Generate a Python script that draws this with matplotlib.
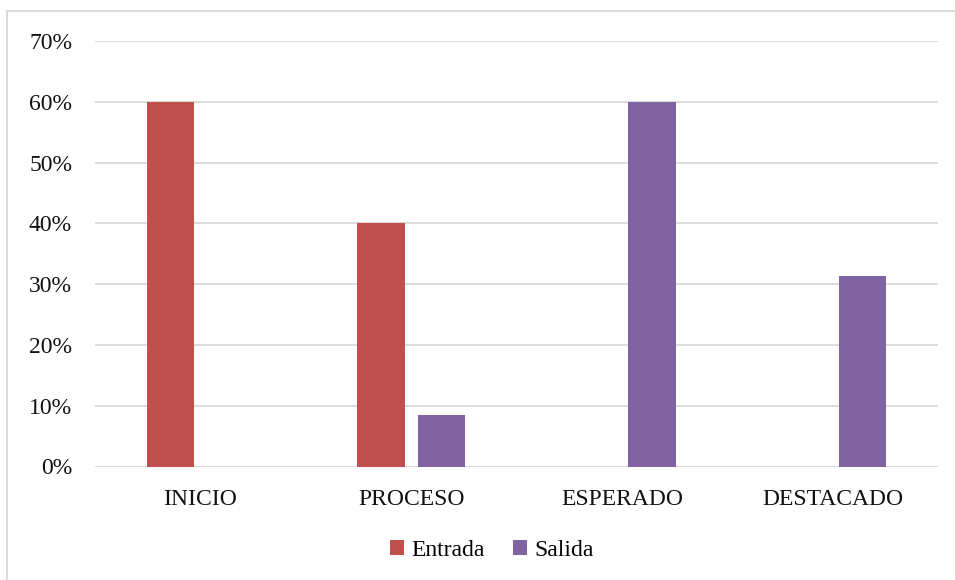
import numpy as np
import matplotlib.pyplot as plt
from matplotlib.patches import Rectangle
from matplotlib.ticker import PercentFormatter

# data
categories = ['INICIO', 'PROCESO', 'ESPERADO', 'DESTACADO']
entrada = [60, 40, 0, 0]
salida = [0, 8.5, 60, 31.4]

plt.rcParams['font.family'] = ['Liberation Serif', 'DejaVu Serif']

fig = plt.figure(figsize=(9.55, 5.8), dpi=100)
ax = fig.add_axes([95/955, 113.5/580, 843/955, 425.5/580])

x = np.arange(len(categories))
w = 0.224
off = 0.143
ax.bar(x - off, entrada, w, color='#C0504D', label='Entrada', zorder=3)
ax.bar(x + off, salida, w, color='#8064A2', label='Salida', zorder=3)

ax.set_xlim(-0.5, len(categories) - 0.5)
ax.set_ylim(0, 70)
ax.set_yticks(np.arange(0, 71, 10))
ax.yaxis.set_major_formatter(PercentFormatter(decimals=0))
ax.set_xticks(x)
ax.set_xticklabels(categories)
ax.tick_params(axis='both', length=0, labelsize=17, colors='#111111')
ax.tick_params(axis='x', pad=16)
ax.tick_params(axis='y', pad=16.5)
ax.grid(axis='y', color='#D9D9D9', linewidth=1.3, zorder=0)
for s in ax.spines.values():
    s.set_visible(False)

# chart border
fig.patches.append(Rectangle((7/955, -0.1), 1.1, (580 - 11)/580 + 0.1,
                             transform=fig.transFigure, fill=False,
                             edgecolor='#D9D9D9', linewidth=1.3))

fig.legend(loc='center', bbox_to_anchor=(492/955, 1 - 550/580), ncol=2,
           frameon=False, fontsize=17, handlelength=0.6, handleheight=0.6,
           handletextpad=0.3, columnspacing=1.2)

fig.savefig('out.png', dpi=100)
